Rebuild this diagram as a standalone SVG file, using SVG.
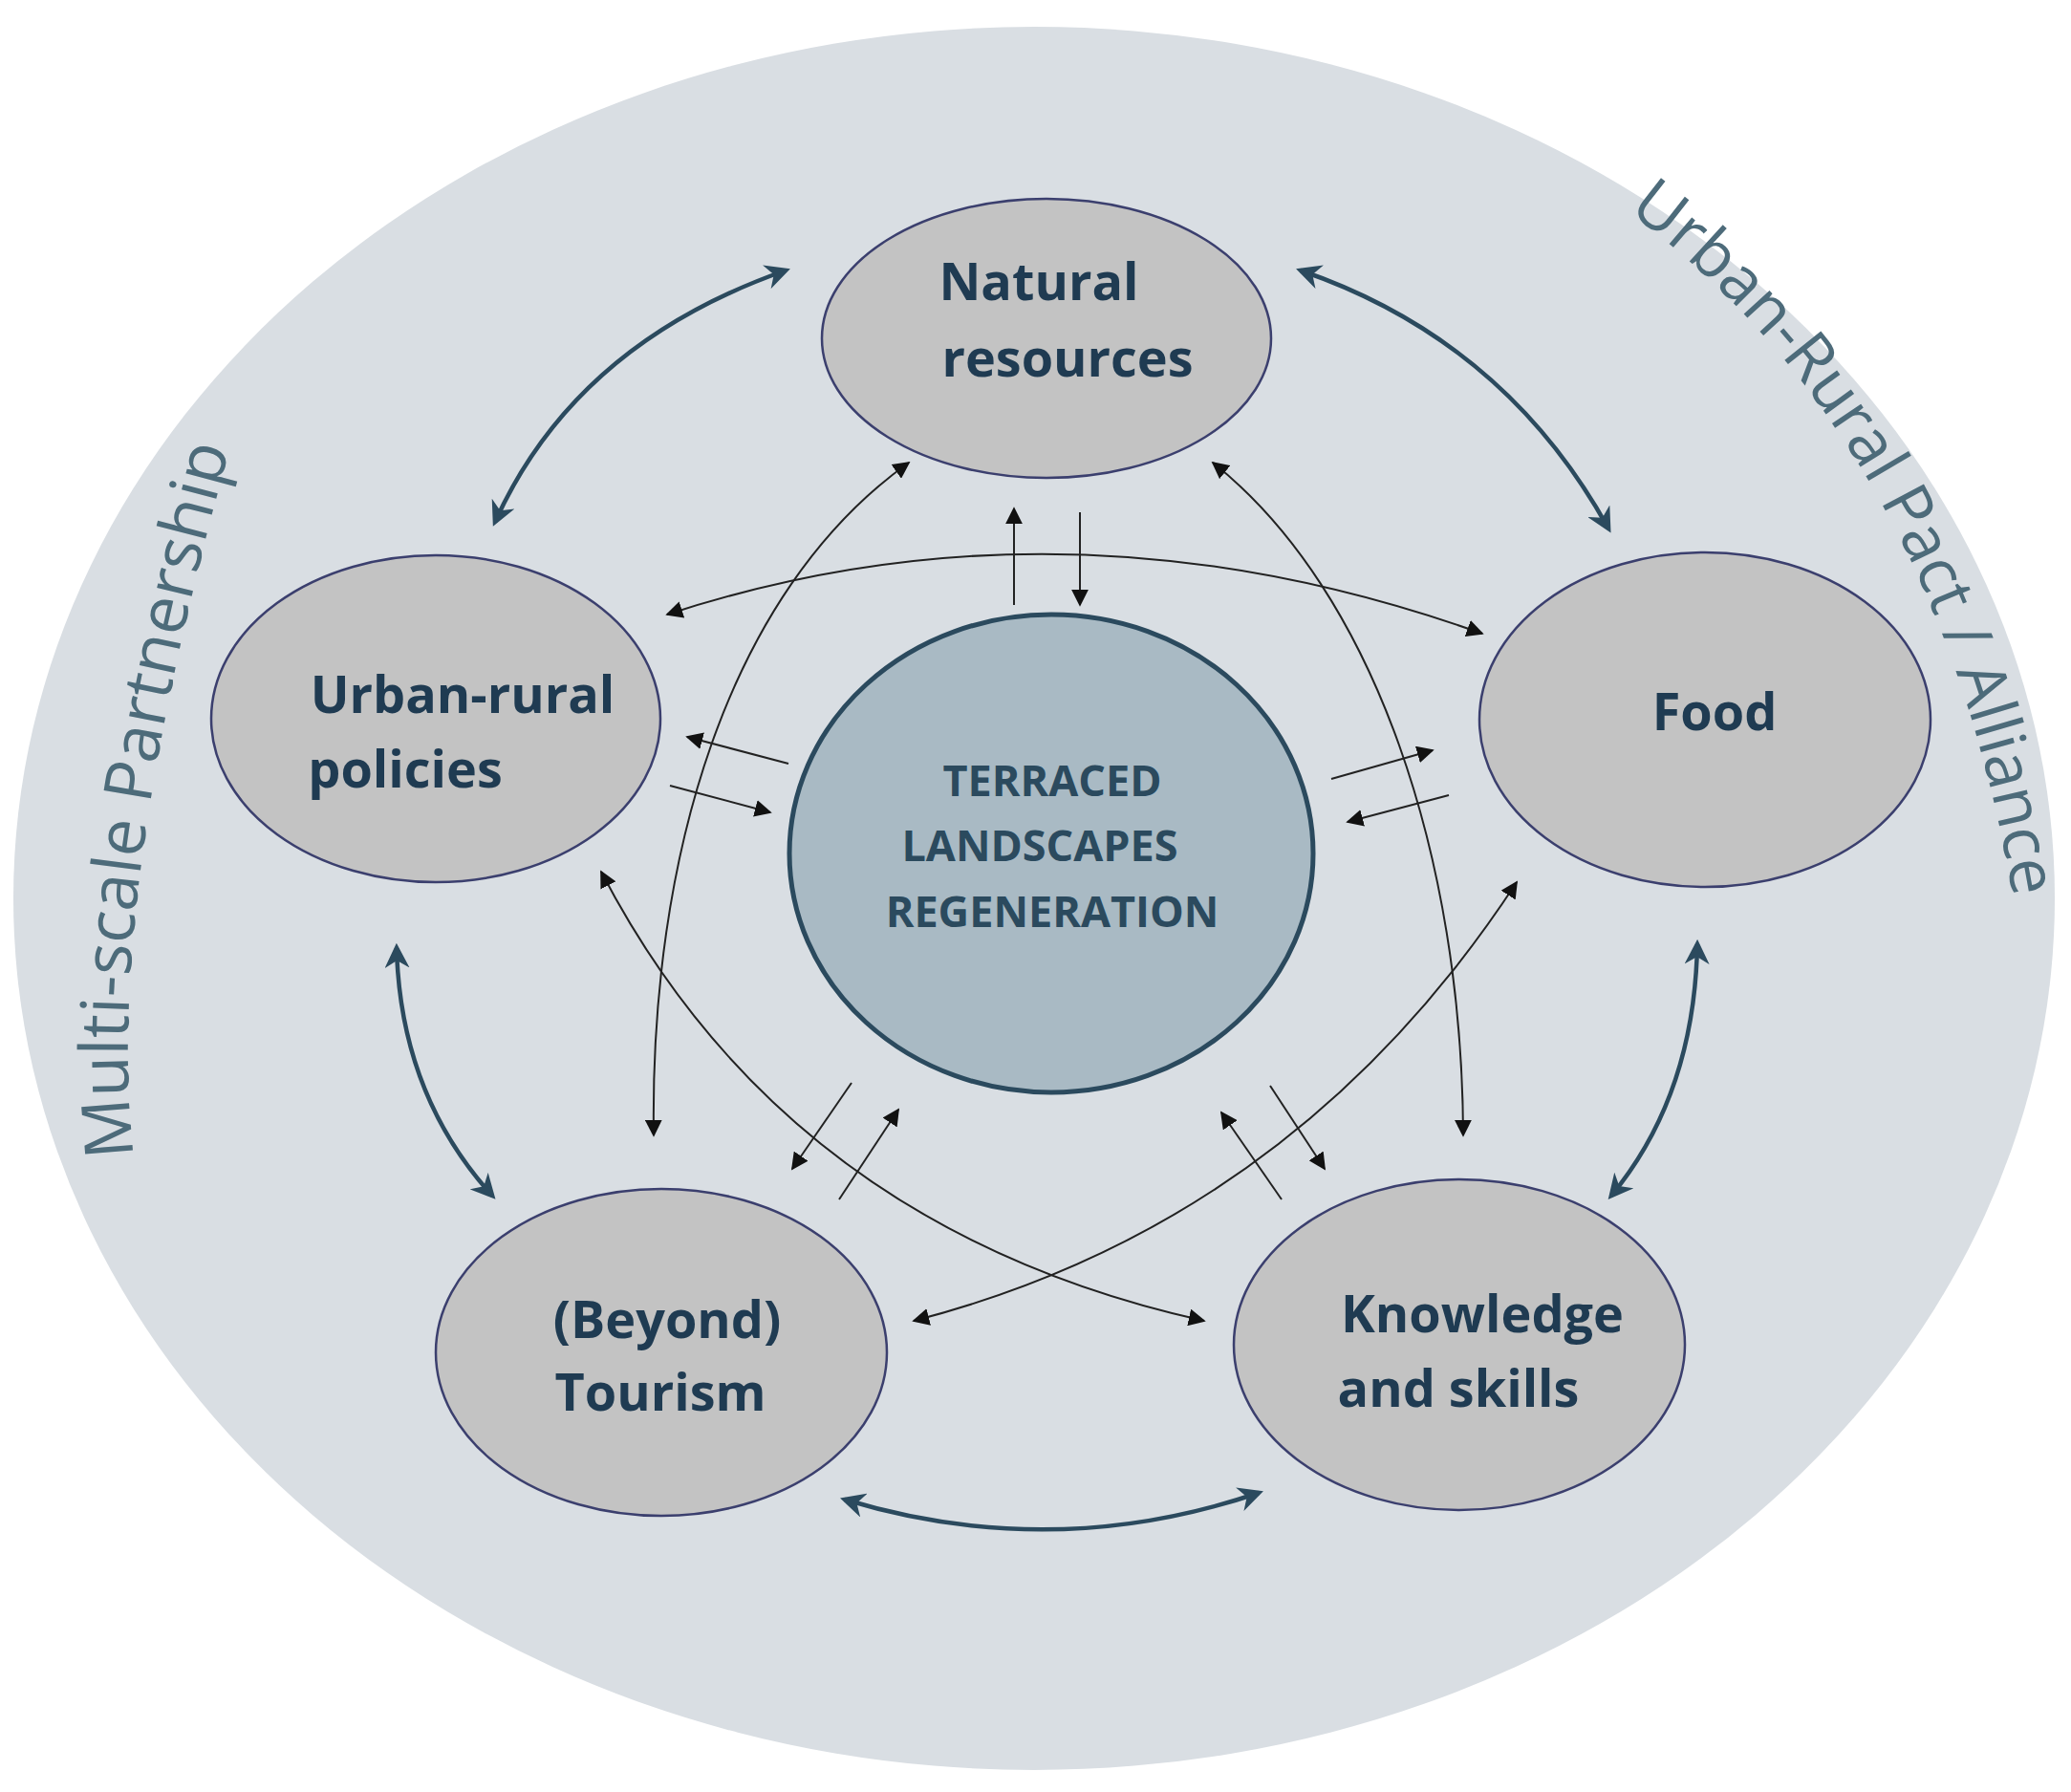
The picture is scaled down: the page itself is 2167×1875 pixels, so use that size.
<svg xmlns="http://www.w3.org/2000/svg" width="2167" height="1875" viewBox="0 0 2167 1875">
<defs>
<style>
.node{fill:#c3c3c3;stroke:#3b3f6e;stroke-width:2.5}
.lbl{font-family:"Open Sans","Liberation Sans",sans-serif;font-weight:700;font-size:54px;fill:#1f3b52;text-anchor:middle}
.clbl{font-family:"Open Sans","Liberation Sans",sans-serif;font-weight:700;font-size:45px;fill:#2b4a5e;text-anchor:middle}
.side{font-family:"Open Sans","Liberation Sans",sans-serif;fill:#4d6b7a}
.thick{fill:none;stroke:#2b4a5e;stroke-width:4.5;marker-start:url(#hb);marker-end:url(#hb)}
.thin{fill:none;stroke:#222;stroke-width:2;marker-end:url(#hs)}
.thin2{fill:none;stroke:#222;stroke-width:2;marker-start:url(#hs);marker-end:url(#hs)}
</style>
<marker id="hb" viewBox="0 0 10 10" refX="8" refY="5" markerWidth="26" markerHeight="26" markerUnits="userSpaceOnUse" orient="auto-start-reverse"><path d="M0,0 L10,5 L0,10 L3,5 z" fill="#2b4a5e"/></marker>
<marker id="hs" viewBox="0 0 10 10" refX="9" refY="5" markerWidth="18" markerHeight="18" markerUnits="userSpaceOnUse" orient="auto-start-reverse"><path d="M0,0 L10,5 L0,10 z" fill="#111"/></marker>
</defs>
<rect width="2167" height="1875" fill="#fff"/>
<ellipse cx="1082" cy="940" rx="1068" ry="912" fill="#d9dee3"/>
<path id="pl" d="M140,1210 Q103,903 290,300" fill="none"/>
<path id="pr" d="M1703,221 Q2092,509 2130,1150" fill="none"/>
<text class="side" font-size="70"><textPath href="#pl">Multi-scale Partnership</textPath></text>
<text class="side" font-size="68"><textPath href="#pr">Urban-Rural Pact / Alliance</textPath></text>
<g id="connectors">
<path class="thick" d="M822,283 Q602,360 518,546"/>
<path class="thick" d="M1361,283 Q1574,356 1683,553"/>
<path class="thick" d="M415,992 Q419,1145 515,1251"/>
<path class="thick" d="M1776,988 Q1773,1146 1686,1251"/>
<path class="thick" d="M884,1569 Q1102,1635 1317,1562"/>
<path class="thin2" d="M698,643 Q1114,507 1551,663"/>
<path class="thin2" d="M951,484 C760,620 680,900 684,1188"/>
<path class="thin2" d="M1269,484 C1440,620 1530,900 1531,1188"/>
<path class="thin2" d="M629,912 Q823,1285 1260,1382"/>
<path class="thin2" d="M1587,923 Q1354,1279 956,1382"/>
<path class="thin" d="M1061,633 L1061,532"/>
<path class="thin" d="M1130,536 L1130,633"/>
<path class="thin" d="M825,799 L719,771"/>
<path class="thin" d="M701,822 L806,850"/>
<path class="thin" d="M1393,815 L1499,785"/>
<path class="thin" d="M1516,832 L1410,860"/>
<path class="thin" d="M891,1133 L829,1223"/>
<path class="thin" d="M878,1255 L940,1161"/>
<path class="thin" d="M1329,1136 L1386,1223"/>
<path class="thin" d="M1341,1255 L1278,1164"/>
</g>
<g id="center">
<ellipse cx="1100" cy="893" rx="274" ry="250" fill="#a9bac4" stroke="#2b4a5e" stroke-width="5"/>
<text class="clbl" x="1101" y="833">TERRACED</text>
<text class="clbl" x="1088" y="901">LANDSCAPES</text>
<text class="clbl" x="1101" y="970">REGENERATION</text>
</g>
<g id="natural">
<ellipse class="node" cx="1095" cy="354" rx="235" ry="146"/>
<text class="lbl" x="1087" y="314">Natural</text>
<text class="lbl" x="1117" y="394">resources</text>
</g>
<g id="urban">
<ellipse class="node" cx="456" cy="752" rx="235" ry="171"/>
<text class="lbl" x="484" y="746">Urban-rural</text>
<text class="lbl" x="424" y="824">policies</text>
</g>
<g id="food">
<ellipse class="node" cx="1784" cy="753" rx="236" ry="175"/>
<text class="lbl" x="1794" y="764">Food</text>
</g>
<g id="tourism">
<ellipse class="node" cx="692" cy="1415" rx="236" ry="171"/>
<text class="lbl" x="698" y="1400">(Beyond)</text>
<text class="lbl" x="691" y="1476">Tourism</text>
</g>
<g id="knowledge">
<ellipse class="node" cx="1527" cy="1407" rx="236" ry="173"/>
<text class="lbl" x="1551" y="1394">Knowledge</text>
<text class="lbl" x="1526" y="1472">and skills</text>
</g>
</svg>
